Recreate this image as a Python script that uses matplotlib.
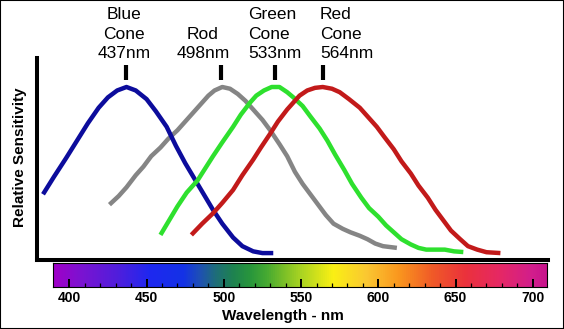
import numpy as np
import matplotlib
matplotlib.use("Agg")
import matplotlib.pyplot as plt
from matplotlib.colors import LinearSegmentedColormap
from matplotlib.patches import Rectangle

# curves: wavelength (nm) and relative sensitivity
blue_wl = [383, 390, 398, 405, 412, 419, 425, 431, 437, 443, 450, 456, 463, 469, 475,
           481, 487, 493, 499, 506, 512, 519, 525, 532]
blue_sens = [0.38, 0.48, 0.59, 0.69, 0.79, 0.88, 0.94, 0.98, 1.00, 0.98, 0.93, 0.86, 0.77, 0.66, 0.56,
             0.47, 0.38, 0.29, 0.21, 0.13, 0.08, 0.05, 0.04, 0.04]

rod_wl = [426, 432, 437, 443, 448, 453, 459, 464, 470, 478, 484, 490, 494, 499, 504, 509,
          514, 519, 525, 530, 536, 541, 546, 551, 556, 561, 566, 571, 577, 582, 588, 593,
          598, 603, 612]
rod_sens = [0.32, 0.37, 0.42, 0.49, 0.54, 0.60, 0.65, 0.70, 0.75, 0.83, 0.89, 0.95, 0.98, 1.00, 0.99, 0.96,
            0.92, 0.87, 0.81, 0.75, 0.67, 0.60, 0.51, 0.44, 0.38, 0.32, 0.26, 0.21, 0.18, 0.16, 0.14, 0.12,
            0.095, 0.08, 0.07]

green_wl = [459, 464, 470, 476, 483, 488, 493, 499, 506, 511, 517, 521, 526, 531, 536, 541,
            545, 551, 556, 562, 567, 572, 578, 583, 589, 594, 600, 605, 610, 615, 621, 626,
            631, 637, 643, 649, 655]
green_sens = [0.145, 0.22, 0.31, 0.39, 0.46, 0.53, 0.60, 0.68, 0.77, 0.84, 0.91, 0.95, 0.98, 1.00, 1.00, 0.97,
              0.94, 0.89, 0.83, 0.76, 0.69, 0.61, 0.52, 0.44, 0.36, 0.30, 0.25, 0.20, 0.16, 0.12, 0.09, 0.07,
              0.06, 0.06, 0.06, 0.05, 0.046]

red_wl = [479, 486, 493, 499, 506, 512, 519, 524, 530, 535, 541, 545, 549, 554, 559, 564,
          570, 575, 581, 588, 594, 599, 604, 610, 615, 621, 626, 632, 637, 642, 647, 653,
          658, 664, 670, 679]
red_sens = [0.145, 0.21, 0.27, 0.33, 0.405, 0.49, 0.58, 0.65, 0.73, 0.80, 0.87, 0.91, 0.95, 0.98, 0.995, 1.00,
            0.99, 0.97, 0.93, 0.88, 0.82, 0.77, 0.71, 0.64, 0.57, 0.50, 0.43, 0.36, 0.29, 0.23, 0.17, 0.12,
            0.08, 0.06, 0.045, 0.04]

peak_wl = [437, 498, 533, 564]
peak_labels = ["Blue\nCone\n437nm", "Rod\n498nm", "Green\nCone\n533nm", "Red\nCone\n564nm"]

# spectrum strip colours
spec_wl = [389.6, 409, 431, 452, 474, 484.5, 495, 506, 517, 528, 538.5, 549,
           571, 592.5, 614, 635.6, 657, 679, 700, 709.4]
spec_rgb = [(160, 0, 200), (120, 20, 210), (80, 30, 220), (30, 40, 240), (20, 50, 230),
            (30, 80, 180), (30, 110, 120), (30, 130, 80), (40, 150, 60), (70, 170, 50),
            (120, 190, 40), (165, 210, 35), (250, 240, 20), (250, 200, 50), (250, 150, 30),
            (240, 90, 40), (235, 50, 60), (230, 40, 100), (210, 30, 140), (200, 20, 140)]
tick_wl = [400, 450, 500, 550, 600, 650, 700]

W, H = 564, 329
fig = plt.figure(figsize=(W / 100, H / 100), dpi=100)
fig.patch.set_facecolor("white")

# main plot
ax = fig.add_axes([37 / W, 1 - 260 / H, (548 - 37) / W, (260 - 58) / H])
ax.set_xlim(379.1, 709.8)
ax.set_ylim(0, 202 / 173)
for s in ["top", "right"]:
    ax.spines[s].set_visible(False)
for s in ["left", "bottom"]:
    ax.spines[s].set_linewidth(2.9)
    ax.spines[s].set_color("black")
ax.set_xticks([])
ax.set_yticks([])

style = dict(lw=3.2, solid_capstyle="butt", solid_joinstyle="round")
ax.plot(rod_wl, rod_sens, color="#858585", **style)
ax.plot(blue_wl, blue_sens, color="#0c0c9c", **style)
ax.plot(green_wl, green_sens, color="#2ee02e", **style)
ax.plot(red_wl, red_sens, color="#c21a1a", **style)

# peak markers
ax.vlines(peak_wl, 1.040, 1.127, color="black", lw=3.0, clip_on=False)

lab_font = ["Liberation Sans", "DejaVu Sans"]
label_pos = [(124, "center"), (203, "center"), (248, "left"), (320, "left")]
for (px, ha), txt in zip(label_pos, peak_labels):
    fig.text(px / W, 1 - 61 / H, txt, ha=ha, va="bottom", multialignment=ha,
             fontsize=12.5, family=lab_font, linespacing=1.36)

fig.text(20 / W, 1 - 157 / H, "Relative Sensitivity", rotation=90, ha="center", va="center",
         fontsize=11, fontweight="bold", family=lab_font)

# spectrum colour strip
cax = fig.add_axes([53.3 / W, 1 - 287.3 / H, (547.3 - 53.3) / W, 24 / H])
pos = [(w - spec_wl[0]) / (spec_wl[-1] - spec_wl[0]) for w in spec_wl]
cmap = LinearSegmentedColormap.from_list(
    "spec", list(zip(pos, [tuple(c / 255 for c in rgb) for rgb in spec_rgb])))
grad = np.linspace(0, 1, 512)[None, :]
cax.imshow(grad, cmap=cmap, aspect="auto", extent=[spec_wl[0], spec_wl[-1], 0, 1])
cax.set_xlim(spec_wl[0], spec_wl[-1])
cax.set_ylim(0, 1)
cax.set_yticks([])
cax.set_xticks(tick_wl)
cax.set_xticklabels([str(t) for t in tick_wl], fontsize=10, fontweight="bold",
                    family=lab_font)
cax.set_xticks(range(400, 710, 10), minor=True)
cax.tick_params(axis="x", which="major", direction="in", length=5.5, width=1.4, pad=2.5)
cax.tick_params(axis="x", which="minor", direction="in", length=3, width=0.9)
for s in cax.spines.values():
    s.set_linewidth(0.8)

fig.text(283 / W, 1 - 316 / H, "Wavelength - nm", ha="center", va="center",
         fontsize=11, fontweight="bold", family=lab_font)

# outer frame
fig.patches.append(Rectangle((0, 0), 1, 1, transform=fig.transFigure, fill=False,
                             ec="black", lw=1.5))

fig.savefig("out.png", dpi=100)
